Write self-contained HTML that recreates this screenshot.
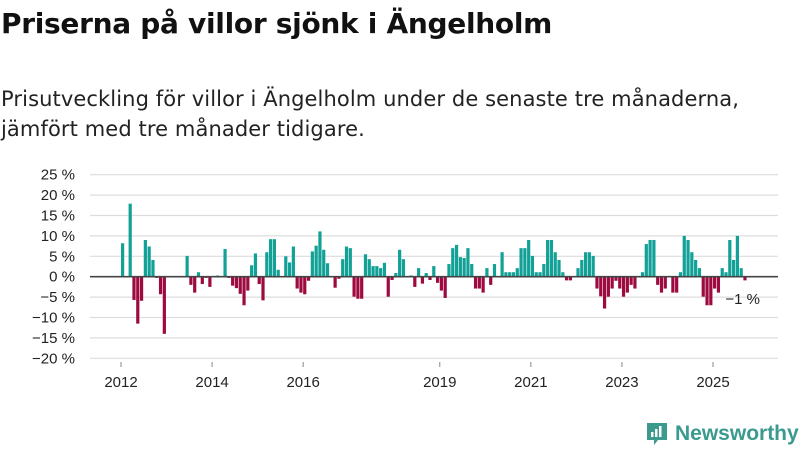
<!DOCTYPE html>
<html><head><meta charset="utf-8"><style>
body{margin:0;width:800px;height:450px;background:#fff;font-family:"Liberation Sans","DejaVu Sans",sans-serif;overflow:hidden;position:relative;color:#111}
h1{position:absolute;left:1px;top:7px;margin:0;font-family:"DejaVu Sans",sans-serif;font-size:28px;font-weight:bold;letter-spacing:-0.3px}
.sub{position:absolute;left:1px;top:84px;margin:0;font-family:"DejaVu Sans",sans-serif;font-size:21px;line-height:30px;color:#222;letter-spacing:0.1px}
svg{position:absolute;left:0;top:0}
</style></head><body>
<h1>Priserna på villor sjönk i Ängelholm</h1>
<p class="sub">Prisutveckling för villor i Ängelholm under de senaste tre månaderna,<br>jämfört med tre månader tidigare.</p>
<svg id="chart" width="800" height="450"></svg>
<div style="position:absolute;left:645px;top:421px;display:flex;align-items:center;gap:6px">
<svg width="24" height="26" style="position:static"><path d="M2 2h20v17h-9l-4 5v-5H2z" fill="#3a9a8e"/><rect x="6" y="11" width="2.5" height="5" fill="#fff"/><rect x="10" y="8" width="2.5" height="8" fill="#fff"/><rect x="14" y="5" width="2.5" height="11" fill="#fff"/></svg>
<span style="font-size:21px;color:#3a9a8e;font-weight:bold">Newsworthy</span></div>
<script>
const values=[8.2,0,17.9,-5.7,-11.5,-5.9,9,7.4,4.1,-0.3,-4.3,-14,0,0,0,0,0,5.1,-2,-3.9,1.1,-1.8,-0.3,-2.5,0,0.3,0,6.8,-0.3,-2.2,-2.8,-4.2,-7,-3.4,2.8,5.7,-1.8,-5.8,6,9.2,9.2,1.7,0,5,3.5,7.4,-2.9,-3.9,-4.3,-1,6.2,7.6,11.1,6.6,3.3,0,-2.7,-0.5,4.3,7.4,7,-4.9,-5.4,-5.4,5.5,4.3,2.6,2.6,2.1,3.4,-4.9,-0.8,0.9,6.6,4.3,0,0.3,-2.5,2.1,-1.7,0.9,-0.8,2.6,-1.5,-3.4,-5.2,3.1,7,7.8,4.8,4.6,7,3.1,-2.9,-2.9,-3.9,2.1,-2,3.1,0,6,1.1,1.1,1.1,2.1,7,7,9,5.1,1.1,1.1,3.1,9,9,6,4.1,1.1,-0.9,-0.9,0,2.1,4.1,6,6,5.1,-2.9,-4.8,-7.8,-4.9,-2.9,-1,-2.9,-4.9,-3.9,-2,-2.9,0,1.1,8,9,9,-2,-3.9,-2.9,0,-3.9,-3.9,1.1,10,9,6,4.1,2.1,-4.9,-7,-7,-2.9,-3.9,2.1,1.1,9,4.1,10,2.1,-0.9];
const yTicks=[25,20,15,10,5,0,-5,-10,-15,-20];
const yearTicks=[2012,2014,2016,2019,2021,2023,2025];
const startYear=2012;
const lastLabel="\u22121 %";
const NS="http://www.w3.org/2000/svg";
const svg=document.getElementById('chart');
const y=v=>276.7-v*4.08;
const x=i=>121+i*3.795;
const xYear=yr=>x((yr-startYear)*12);
function mk(t,a){const e=document.createElementNS(NS,t);for(const k in a)e.setAttribute(k,a[k]);svg.appendChild(e);return e;}
yTicks.forEach(t=>{
 const g=mk('line',{x1:90,x2:778,y1:y(t),y2:y(t),stroke:'#ddd','stroke-width':1.2});
 
 
 const l=mk('text',{x:75,y:y(t)+5,'text-anchor':'end','font-size':15,fill:'#222'});
 l.textContent=(t<0?'\u2212'+(-t):t)+' %';
 
 
});
values.forEach((v,i)=>{
 if(v===0)return;
 const r=mk('rect',{x:x(i),width:3.2,y:v>0?y(v):y(0),height:Math.abs(y(v)-y(0)),fill:v>0?'#12a197':'#9c0a40'});
 
 
});
const z=mk('line',{x1:90,x2:778,y1:y(0),y2:y(0),stroke:'#444','stroke-width':1.6});


yearTicks.forEach(yr=>{
 const tk=mk('line',{x1:xYear(yr),x2:xYear(yr),y1:362,y2:367,stroke:'#888'});
 
 
 const l=mk('text',{x:xYear(yr),y:387,'text-anchor':'middle','font-size':15,fill:'#222'});
 l.textContent=yr;
 
 
});
const ll=mk('text',{x:x(values.length-1)-18,y:304,'font-size':15,fill:'#222'});
ll.textContent=lastLabel;


</script>
</body></html>
